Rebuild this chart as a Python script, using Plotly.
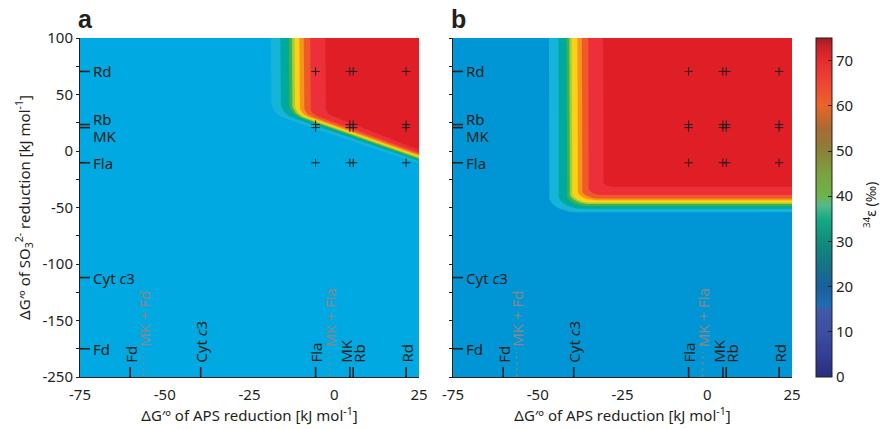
import numpy as np
import plotly.graph_objects as go
from plotly.subplots import make_subplots

# ---------------- data ----------------
# electron carriers: ΔG'° of APS reduction (x axis), kJ/mol
aps_names = ["Fd", "Cyt <i>c</i>3", "Fla", "MK", "Rb", "Rd"]
aps_dg = [-60.2, -39.4, -5.5, 4.6, 5.6, 21.2]
# electron carriers: ΔG'° of sulfite reduction (y axis), kJ/mol
sulfite_names = ["Rd", "Rb", "MK", "Fla", "Cyt <i>c</i>3", "Fd"]
sulfite_dg = [70.4, 23.4, 20.7, -10.4, -112.0, -200.0]
# combined carriers (grey, dotted)
combo_names = ["MK + Fd", "MK + Fla"]
combo_aps_dg = [-56.2, -1.3]
# combinations marked with crosses
cross_aps = [-5.5, 4.6, 5.6, 21.2]
cross_sulfite = [70.4, 23.4, 20.7, -10.4]

# 34ε contour levels (‰) and where each level sits
eps_levels = [30, 35, 40, 45, 50, 55, 60, 65, 70]
# panel a: level boundary is vertical at x, bends at kink y, meets right edge (x=25) at edge y
a_level_x = [-18.7, -15.9, -13.4, -12.5, -11.7, -10.3, -9.0, -7.1, -2.6]
a_level_kink_y = [33.0, 33.0, 33.0, 33.0, 33.0, 33.0, 33.0, 33.0, 33.5]
a_level_edge_y = [-11.0, -9.0, -7.5, -6.5, -5.5, -4.3, -3.2, -1.8, 0.9]
# panel b: level boundary is vertical at x and horizontal at y
b_level_x = [-46.7, -43.9, -41.5, -40.7, -40.0, -38.3, -37.0, -35.1, -30.7]
b_level_y = [-54.1, -51.2, -48.8, -47.0, -45.9, -43.5, -42.0, -39.0, -31.7]

# axis ticks (real values; the axis is broken below -150)
x_ticks = [-75, -50, -25, 0, 25]
y_ticks = [100, 50, 0, -50, -100, -150, -250]
cbar_ticks = [0, 10, 20, 30, 40, 50, 60, 70]

# ---------------- styles ----------------
band_colors = ["#17b4da", "#00a99d", "#3bb44a", "#a5cd39", "#fcd116",
               "#f7941e", "#f05a29", "#ec2f38", "#e01e26"]
base_a = "#00a9e1"
base_b = "#0096d5"
a_round_px = [15, 14, 13, 12, 11, 10, 9, 8, 7]
b_round_rx_px = [28, 25, 22, 21, 20, 18, 16, 14, 10]
b_round_ry_px = [16, 14, 12, 12, 11, 10, 9, 8, 5]
cbar_scale = [
    [0 / 75, "#2a2d7c"], [5 / 75, "#333f97"], [10 / 75, "#3b4fa2"],
    [15 / 75, "#3e5aa8"], [15.8 / 75, "#1f6cb4"], [20 / 75, "#195f9c"],
    [25 / 75, "#157486"], [30 / 75, "#0f8d7b"], [35 / 75, "#16aa86"],
    [38 / 75, "#55b98a"], [40 / 75, "#6bb54b"], [45 / 75, "#7ba23f"],
    [50 / 75, "#8a8038"], [55 / 75, "#a86b33"], [60 / 75, "#ea6527"],
    [65 / 75, "#ee4633"], [70 / 75, "#e52b2e"], [73 / 75, "#c92229"],
    [1.0, "#9d1f24"],
]
ink = "#231f20"
grey = "#87888a"
FONT = "Noto Sans"

XR = [-75, 25]
YR_DISP = [-200, 100]
PX_X = 339 / 100.0   # px per x unit
PX_Y = 339 / 300.0   # px per displayed y unit


def ydisp(v):
    """broken axis: the range -150..-250 is drawn compressed by 2"""
    v = np.asarray(v, dtype=float)
    return np.where(v >= -150, v, -150 + (v + 150) / 2.0)


fig = make_subplots(rows=1, cols=2, horizontal_spacing=0.0478)

# ---- panel backgrounds (lowest band) ----
for i, col in enumerate([base_a, base_b]):
    s = "" if i == 0 else "2"
    fig.add_shape(type="rect", xref=f"x{s} domain", yref=f"y{s} domain",
                  x0=0, x1=1, y0=0, y1=1, fillcolor=col,
                  line=dict(width=0), layer="below")

# ---- panel a bands ----
for lev, a, k, e, r, colr in zip(eps_levels, a_level_x, a_level_kink_y,
                                 a_level_edge_y, a_round_px, band_colors):
    slope = (e - k) / (25 - a)
    d1 = r / PX_Y
    d2 = r / PX_X
    p0 = np.array([a, k + d1])
    p1 = np.array([a, k])
    p2 = np.array([a + d2, k + slope * d2])
    t = np.linspace(0, 1, 16)[:, None]
    curve = (1 - t) ** 2 * p0 + 2 * (1 - t) * t * p1 + t ** 2 * p2
    xs = [a] + list(curve[:, 0]) + [26, 26, a]
    ys = [101] + list(curve[:, 1]) + [e + slope, 101, 101]
    fig.add_trace(go.Scatter(x=xs, y=ys, mode="lines", fill="toself",
                             fillcolor=colr, line=dict(width=0),
                             hoverinfo="skip", showlegend=False,
                             name=f"{lev} ‰"), row=1, col=1)

# ---- panel b bands ----
for lev, a, b, rx_px, ry_px, colr in zip(eps_levels, b_level_x, b_level_y,
                                         b_round_rx_px, b_round_ry_px,
                                         band_colors):
    rx = rx_px / PX_X
    ry = ry_px / PX_Y
    th = np.linspace(np.pi, 1.5 * np.pi, 20)
    cx, cy = a + rx, b + ry
    xs = [a] + list(cx + rx * np.cos(th)) + [26, 26, a]
    ys = [101] + list(cy + ry * np.sin(th)) + [b, 101, 101]
    fig.add_trace(go.Scatter(x=xs, y=ys, mode="lines", fill="toself",
                             fillcolor=colr, line=dict(width=0),
                             hoverinfo="skip", showlegend=False,
                             name=f"{lev} ‰"), row=1, col=2)

# ---- carrier ticks, labels and crosses on both panels ----
tick_dx = 10 / PX_X
tick_dy = 10 / PX_Y
combo_dy = 25 / PX_Y
sul_disp = ydisp(sulfite_dg)
cx_pts, cy_pts = np.meshgrid(cross_aps, ydisp(cross_sulfite))

for col in (1, 2):
    xref = "x" if col == 1 else "x2"
    yref = "y" if col == 1 else "y2"
    # y-axis carrier ticks
    lx, ly = [], []
    for v in sul_disp:
        lx += [XR[0], XR[0] + tick_dx, None]
        ly += [v, v, None]
    fig.add_trace(go.Scatter(x=lx, y=ly, mode="lines",
                             line=dict(color=ink, width=1.6),
                             hoverinfo="skip", showlegend=False), row=1, col=col)
    # x-axis carrier ticks
    lx, ly = [], []
    for v in aps_dg:
        lx += [v, v, None]
        ly += [YR_DISP[0], YR_DISP[0] + tick_dy, None]
    fig.add_trace(go.Scatter(x=lx, y=ly, mode="lines",
                             line=dict(color=ink, width=1.6),
                             hoverinfo="skip", showlegend=False), row=1, col=col)
    # combined carriers (dotted grey)
    lx, ly = [], []
    for v in combo_aps_dg:
        lx += [v, v, None]
        ly += [YR_DISP[0], YR_DISP[0] + combo_dy, None]
    fig.add_trace(go.Scatter(x=lx, y=ly, mode="lines",
                             line=dict(color=grey, width=1, dash="dot"),
                             hoverinfo="skip", showlegend=False), row=1, col=col)
    # crosses
    fig.add_trace(go.Scatter(x=cx_pts.ravel(), y=cy_pts.ravel(), mode="markers",
                             marker=dict(symbol="cross-thin", size=6,
                                         line=dict(color=ink, width=1)),
                             hoverinfo="skip", showlegend=False), row=1, col=col)

    # labels along y
    yshift = {"Rb": 6, "MK": -8}
    for name, v in zip(sulfite_names, sul_disp):
        fig.add_annotation(x=XR[0] + tick_dx, y=float(v), xref=xref, yref=yref,
                           text=name, showarrow=False, xanchor="left",
                           yanchor="middle", xshift=1,
                           yshift=yshift.get(name, 0),
                           font=dict(family=FONT, size=15, color=ink))
    # labels along x (rotated)
    xshift = {"MK": -4, "Rb": 5}
    for name, v in zip(aps_names, aps_dg):
        fig.add_annotation(x=v, y=YR_DISP[0] + tick_dy, xref=xref, yref=yref,
                           text=name, showarrow=False, textangle=-90,
                           xanchor="center", yanchor="bottom", yshift=2,
                           xshift=xshift.get(name, 0),
                           font=dict(family=FONT, size=15, color=ink))
    for name, v in zip(combo_names, combo_aps_dg):
        fig.add_annotation(x=v, y=YR_DISP[0] + combo_dy, xref=xref, yref=yref,
                           text=name, showarrow=False, textangle=-90,
                           xanchor="center", yanchor="bottom", yshift=3,
                           font=dict(family=FONT, size=15, color=grey))

# ---- colour bar (dummy trace) ----
fig.add_trace(go.Scatter(
    x=[-1000], y=[-1000], mode="markers", showlegend=False, hoverinfo="skip",
    marker=dict(color=[0], colorscale=cbar_scale, cmin=0, cmax=75, opacity=0,
                showscale=True,
                colorbar=dict(x=(816 - 80) / 712, xanchor="left", xpad=0,
                              y=0.5, yanchor="middle", ypad=0, len=1,
                              lenmode="fraction", thickness=16,
                              outlinewidth=1, outlinecolor=ink,
                              ticks="inside", ticklen=4, tickcolor=ink,
                              tickvals=cbar_ticks,
                              ticktext=[str(t) for t in cbar_ticks],
                              tickfont=dict(family=FONT, size=15, color=ink)))),
    row=1, col=2)

# ---- axes ----
ytick_disp = list(np.arange(100, -201, -25))
labelled = {float(ydisp(t)): str(t) for t in y_ticks}
ytick_text = [labelled.get(float(v), "") for v in ytick_disp]

for col in (1, 2):
    fig.update_xaxes(range=XR, tickvals=x_ticks,
                     ticktext=[str(t) for t in x_ticks], ticks="",
                     ticklabelstandoff=4, automargin=False,
                     showline=True, linecolor=ink, linewidth=1,
                     showgrid=False, zeroline=False,
                     tickfont=dict(family=FONT, size=15, color=ink),
                     title=dict(text="ΔG′º of APS reduction [kJ mol<sup>-1</sup>]",
                                font=dict(family=FONT, size=15, color=ink),
                                standoff=6),
                     row=1, col=col)
    fig.update_yaxes(range=YR_DISP, tickvals=ytick_disp,
                     ticktext=ytick_text if col == 1 else [""] * len(ytick_disp),
                     ticks="outside", ticklen=3, tickcolor=ink,
                     automargin=False,
                     showline=True, linecolor=ink, linewidth=1,
                     showgrid=False, zeroline=False,
                     tickfont=dict(family=FONT, size=15, color=ink),
                     row=1, col=col)
fig.update_yaxes(title=dict(
    text="ΔG′º of SO<sub>3</sub><sup>2-</sup> reduction [kJ mol<sup>-1</sup>]",
    font=dict(family=FONT, size=15, color=ink), standoff=8), row=1, col=1)

# panel letters and colour-bar title
fig.add_annotation(xref="paper", yref="paper", x=(76 - 80) / 712, y=1 + 19 / 339,
                   text="<b>a</b>", showarrow=False, xanchor="left",
                   yanchor="middle",
                   font=dict(family="Liberation Sans", size=25, color=ink))
fig.add_annotation(xref="paper", yref="paper", x=(449 - 80) / 712, y=1 + 19 / 339,
                   text="<b>b</b>", showarrow=False, xanchor="left",
                   yanchor="middle",
                   font=dict(family="Liberation Sans", size=25, color=ink))
fig.add_annotation(xref="paper", yref="paper", x=(870 - 80) / 712,
                   y=1 - (205 - 38) / 339, text="<sup>34</sup>ε (‰)",
                   textangle=-90, showarrow=False, xanchor="center",
                   yanchor="middle",
                   font=dict(family=FONT, size=14, color=ink))

fig.update_layout(width=881, height=429,
                  margin=dict(l=80, r=89, t=38, b=52, autoexpand=False),
                  paper_bgcolor="white", plot_bgcolor="white",
                  showlegend=False)

fig.write_html("out.html", config={"displayModeBar": False},
               post_script="document.body.style.margin='0';"
                           "document.body.style.overflow='hidden';")
